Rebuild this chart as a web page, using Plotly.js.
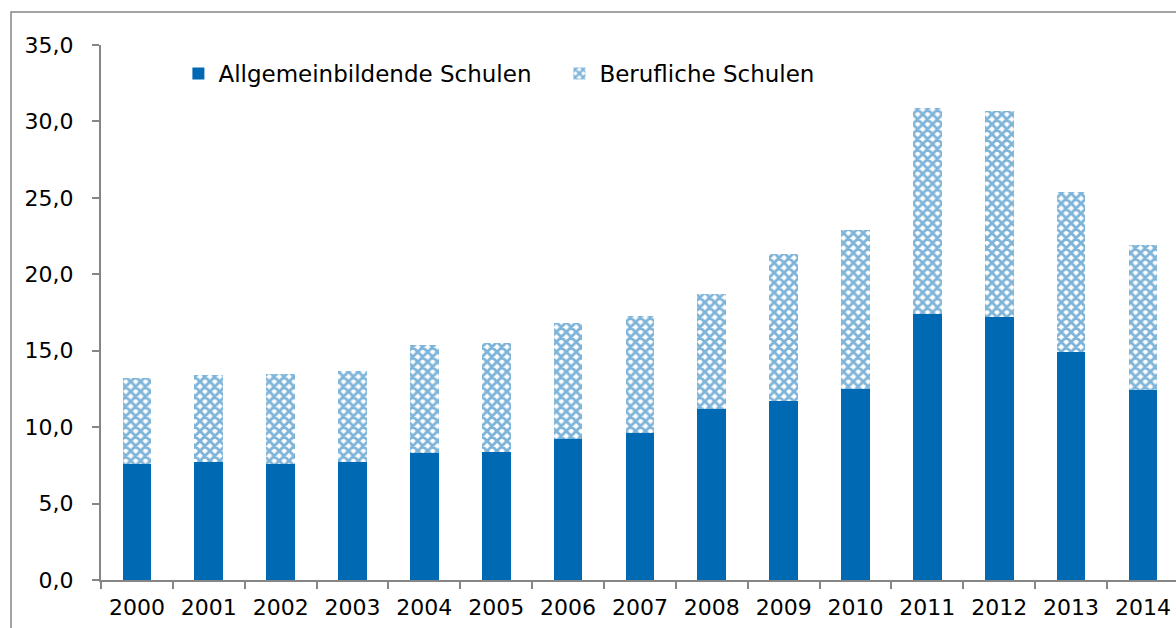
<!DOCTYPE html>
<html>
<head>
<meta charset="utf-8">
<script src="https://cdn.plot.ly/plotly-3.0.1.min.js"></script>
<style>
html,body{margin:0;padding:0;background:#fff;}
#chart{width:1176px;height:628px;}
</style>
</head>
<body>
<div id="chart"></div>
<script>
const years = ["2000","2001","2002","2003","2004","2005","2006","2007","2008","2009","2010","2011","2012","2013","2014"];
const allgemein = [7.6, 7.7, 7.6, 7.7, 8.3, 8.4, 9.2, 9.6, 11.2, 11.7, 12.5, 17.4, 17.2, 14.9, 12.4];
const totals = [13.2, 13.4, 13.5, 13.7, 15.4, 15.5, 16.8, 17.3, 18.7, 21.3, 22.9, 30.9, 30.7, 25.4, 21.9];
const beruflich = totals.map((t, i) => +(t - allgemein[i]).toFixed(1));
const yTicks = [0, 5, 10, 15, 20, 25, 30, 35];

const blue = '#0069B4';
const ff = '"DejaVu Sans", "Liberation Sans", Arial, sans-serif';
const tickFont = {family: ff, size: 22, color: '#000'};
const legFont = {family: ff, size: 23, color: '#000'};

const traces = [
  {
    type: 'bar', name: 'Allgemeinbildende Schulen', x: years, y: allgemein,
    marker: {color: blue, line: {width: 0}}, width: 0.4
  },
  {
    type: 'bar', name: 'Berufliche Schulen', x: years, y: beruflich,
    marker: {color: 'white', line: {width: 0},
      pattern: {shape: 'x', fgcolor: blue, bgcolor: 'white', size: 7, solidity: 0.65, fillmode: 'overlay'}},
    width: 0.4
  }
];

const layout = {
  width: 1176, height: 628,
  margin: {l: 101, r: 0, t: 45, b: 48, pad: 0},
  paper_bgcolor: '#fff', plot_bgcolor: '#fff',
  barmode: 'stack',
  font: tickFont,
  showlegend: true,
  legend: {orientation: 'h', x: 0.072, y: 0.987, xanchor: 'left', yanchor: 'top',
    font: legFont, bgcolor: 'rgba(0,0,0,0)', traceorder: 'normal', itemwidth: 30,
    entrywidth: 336, entrywidthmode: 'pixels'},
  xaxis: {
    type: 'category', range: [-0.5, 14.46], showline: true, linecolor: '#868686', linewidth: 2,
    ticks: 'outside', tickson: 'boundaries', ticklen: 7, tickcolor: '#868686', tickwidth: 2,
    showgrid: false, zeroline: false, tickfont: tickFont, fixedrange: true, ticklabelstandoff: 7
  },
  yaxis: {
    range: [0, 35], tickvals: yTicks, tickformat: '.1f', showline: true, linecolor: '#868686', linewidth: 2,
    ticks: 'outside', ticklen: 7, tickcolor: '#868686', tickwidth: 2,
    showgrid: false, zeroline: false, tickfont: tickFont, ticklabelstandoff: 14
  },
  separators: ',.',
  shapes: [
    {type: 'rect', xref: 'paper', yref: 'paper', x0: -0.0837, x1: 1.2, y0: -0.3, y1: 1.0617,
     line: {color: '#868686', width: 1.5}, fillcolor: 'rgba(0,0,0,0)', layer: 'below'}
  ]
};

Plotly.newPlot('chart', traces, layout, {staticPlot: true, displayModeBar: false});
</script>
</body>
</html>
